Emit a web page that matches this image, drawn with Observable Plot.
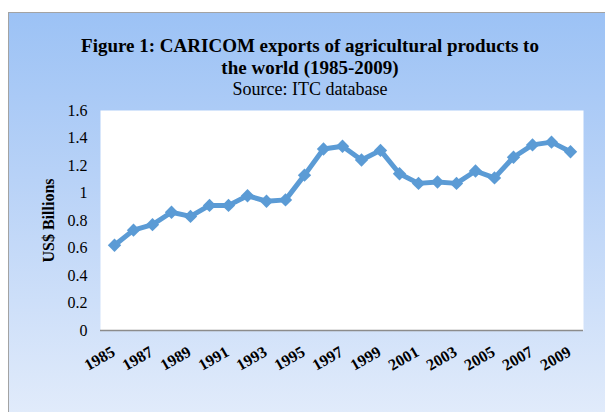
<!DOCTYPE html>
<html>
<head>
<meta charset="utf-8">
<script src="https://cdn.jsdelivr.net/npm/d3@7"></script>
<script src="https://cdn.jsdelivr.net/npm/@observablehq/plot@0.6"></script>
<style>
  html, body { margin: 0; padding: 0; width: 605px; height: 412px; overflow: hidden; background: #ffffff; }
  #frame {
    position: absolute; left: 8px; top: 12px; width: 620px; height: 420px;
    border: 1.5px solid #a3a3a3; box-sizing: border-box;
    background: linear-gradient(to bottom, #9cc2f5 0%, #b8d2f7 40%, #e4edfb 100%);
  }
  #title {
    position: absolute; left: 0; width: 620px; top: 35px; text-align: center;
    font-family: "Liberation Serif", "Times New Roman", serif; color: #000;
  }
  #title .t { font-weight: bold; font-size: 19px; line-height: 22px; }
  #title .s { font-size: 18px; line-height: 21px; }
  #chart { position: absolute; left: 0; top: 0; }
</style>
</head>
<body>
<div id="frame"></div>
<div id="title">
  <div class="t">Figure 1: CARICOM exports of agricultural products to</div>
  <div class="t">the world (1985-2009)</div>
  <div class="s">Source: ITC database</div>
</div>
<div id="chart"></div>
<script>
const years = [1985,1986,1987,1988,1989,1990,1991,1992,1993,1994,1995,1996,1997,1998,1999,2000,2001,2002,2003,2004,2005,2006,2007,2008,2009];
const exportsBn = [0.62,0.73,0.77,0.86,0.83,0.91,0.91,0.98,0.94,0.95,1.13,1.32,1.34,1.24,1.31,1.14,1.07,1.08,1.07,1.16,1.11,1.26,1.35,1.37,1.30];
const yTicks = [0,0.2,0.4,0.6,0.8,1,1.2,1.4,1.6];
const xTickYears = [1985,1987,1989,1991,1993,1995,1997,1999,2001,2003,2005,2007,2009];

const data = years.map((y, i) => ({year: y, value: exportsBn[i]}));
const blue = "#5b9bd5";

const chart = Plot.plot({
  width: 605,
  height: 412,
  marginLeft: 100,
  marginRight: 22,
  marginTop: 110,
  marginBottom: 82,
  style: {background: "transparent", fontFamily: "'Liberation Serif', 'Times New Roman', serif", color: "#000"},
  x: {type: "point", domain: years, padding: 0.5},
  y: {domain: [0, 1.6]},
  marks: [
    Plot.frame({fill: "white", stroke: null}),
    Plot.ruleY([0], {stroke: "#8c8c8c", strokeWidth: 1.5}),
    Plot.line(data, {x: "year", y: "value", stroke: blue, strokeWidth: 5}),
    Plot.dot(data, {x: "year", y: "value", symbol: "diamond2", r: 6, fill: blue, stroke: null}),
    Plot.axisY({ticks: yTicks, tickSize: 0, tickPadding: 13, fontSize: 16, label: null,
      tickFormat: d => String(+d.toFixed(1))}),
    Plot.axisX({ticks: xTickYears, tickSize: 0, tickPadding: 20, tickRotate: -30, fontSize: 16, dx: -1,
      fontWeight: "bold", label: null, tickFormat: d => String(d)}),
    Plot.text(["US$ Billions"], {frameAnchor: "left", textAnchor: "middle", rotate: -90, dx: -52, fontSize: 16, fontWeight: "bold"})
  ]
});
document.getElementById("chart").appendChild(chart);
</script>
</body>
</html>
